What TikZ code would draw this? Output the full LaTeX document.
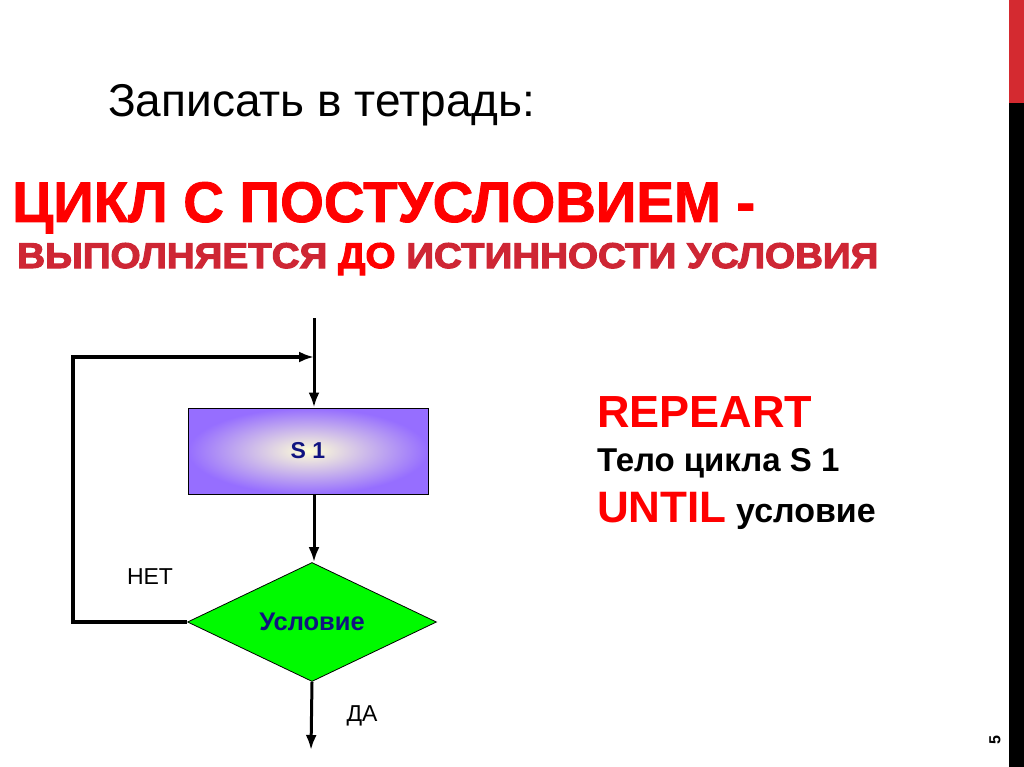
\documentclass[tikz,border=0pt]{standalone}
\usepackage{fontspec}
\setmainfont{Liberation Sans}
\newfontfamily\heavyfont{Liberation Sans Bold}[FakeBold=1.5]
\newfontfamily\blackfont{Liberation Sans Bold}[FakeBold=3]
\usetikzlibrary{shapes.geometric,arrows.meta}
\definecolor{brightred}{RGB}{255,0,0}
\definecolor{darkred}{RGB}{206,38,52}
\definecolor{navyblue}{RGB}{16,20,128}
\definecolor{boxpurple}{RGB}{150,110,255}
\definecolor{boxcream}{RGB}{255,255,215}
\definecolor{condgreen}{RGB}{0,250,0}
\definecolor{barred}{RGB}{212,42,48}

\begin{document}
\begin{tikzpicture}[x=1pt,y=-1pt,
    flow/.style={line width=3pt,-{Latex[length=15pt,width=11pt]}},
    every node/.style={inner sep=0pt}]
  \useasboundingbox (0,0) rectangle (1024,767);
  % side bar and page number
  \fill[barred] (1009,0) rectangle (1024,103);
  \fill[black] (1009,103) rectangle (1024,767);
  \node[rotate=90,font=\fontsize{16}{16}\selectfont\bfseries] (page) at (995,740) {5};
  % headings
  \node[anchor=base west,font=\fontsize{46}{46}\selectfont] (note) at (108,117) {Записать в тетрадь:};
  \node[anchor=base west,text=brightred,font=\heavyfont,text depth=0pt] (title) at (12,222)
    {\resizebox{743pt}{40pt}{ЦИКЛ С ПОСТУСЛОВИЕМ -}};
  \node[anchor=base west,text=darkred,font=\blackfont] (subtitle) at (17,268)
    {\resizebox{861pt}{25pt}{ВЫПОЛНЯЕТСЯ \textcolor{brightred}{ДО} ИСТИННОСТИ УСЛОВИЯ}};
  % flowchart
  \node[draw,line width=1pt,minimum width=240pt,minimum height=86pt,
    inner color=boxcream,outer color=boxpurple,text=navyblue,
    font=\fontsize{23}{23}\selectfont\bfseries] (s1) at (308,451) {S 1};
  \node[diamond,draw,line width=0.8pt,fill=condgreen,aspect=2.09,
    minimum width=249pt,minimum height=119pt,text=navyblue,
    font=\fontsize{25.5}{25.5}\selectfont\bfseries] (cond) at (312,622) {Условие};
  \coordinate (top) at (314,318);
  \coordinate (join) at (314,357);
  \coordinate (out) at (311,750);
  \draw[flow] (top) -- (top |- s1.north);
  \draw[flow] (s1.south -| top) -- (top |- cond.north);
  \draw[flow,line width=3.5pt] (cond.west) -- ++(-114,0) |- (join);
  \draw[flow] (cond.south) -- (out);
  \node[font=\fontsize{23}{23}\selectfont] (no) at (150,577) {НЕТ};
  \node[font=\fontsize{23}{23}\selectfont] (yes) at (362,716) {ДА};
  % pseudocode
  \node[anchor=base west,text=brightred,font=\fontsize{45}{45}\selectfont\bfseries] (repeat) at (597,427) {REPEART};
  \node[anchor=base west,font=\fontsize{33}{33}\selectfont\bfseries] (body) at (597,471) {Тело цикла S 1};
  \node[anchor=base west,font=\fontsize{34}{34}\selectfont\bfseries] (until) at (597,522)
    {\textcolor{brightred}{\fontsize{44}{44}\selectfont UNTIL} условие};
\end{tikzpicture}
\end{document}
